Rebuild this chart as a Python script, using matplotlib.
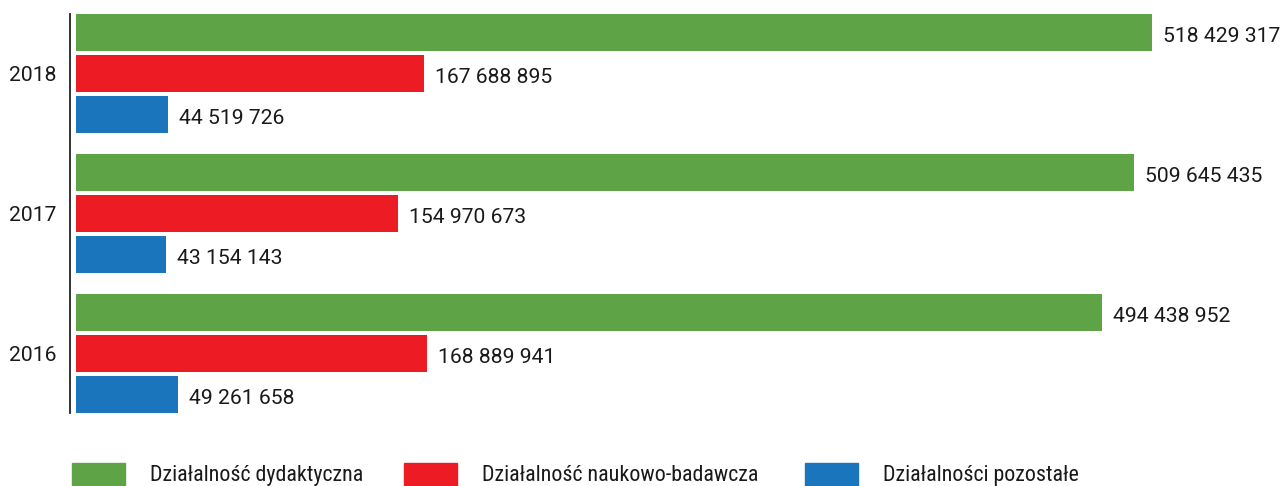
import matplotlib
matplotlib.use("Agg")
from matplotlib import pyplot as plt
from matplotlib.patches import Rectangle
from matplotlib.transforms import ScaledTranslation

years = ["2018", "2017", "2016"]
series = ["Działalność dydaktyczna", "Działalność naukowo-badawcza", "Działalności pozostałe"]
dydaktyczna = [518429317, 509645435, 494438952]
naukowa = [167688895, 154970673, 168889941]
pozostale = [44519726, 43154143, 49261658]
colors = ["#5ea446", "#ed1c24", "#1b75bc"]

W, H = 1283, 486
fig = plt.figure(figsize=(W / 100, H / 100), dpi=100)
ax = fig.add_axes([70 / W, (H - 413) / H, 1213 / W, 399 / H])

k = 1076 / 518429317  # px per unit
pitch = 41 / 140
height = 37 / 140
down = ScaledTranslation(0, -4 / 100, fig.dpi_scale_trans)
values = [dydaktyczna, naukowa, pozostale]
for j, vals in enumerate(values):
    ys = [i + (j - 1) * pitch for i in range(len(years))]
    ax.barh(ys, vals, height=height, color=colors[j])
    for y, v in zip(ys, vals):
        lab = f"{v:,}".replace(",", " ")
        t = ax.text(v + 11 / k, y, lab, va="center", ha="left",
                    fontsize=15.2, family="Roboto", color="#1a1a1a")
        t.set_transform(t.get_transform() + down)

ax.set_xlim(-6 / k, 1207 / k)
ax.set_ylim(2.425, -0.425)
ax.set_yticks(range(len(years)))
ax.set_yticklabels(years, fontsize=15.2, family="Roboto", color="#1a1a1a")
for lab in ax.get_yticklabels():
    lab.set_transform(lab.get_transform() + down)
ax.tick_params(axis="y", length=0, pad=10)
ax.set_xticks([])
for s in ["top", "right", "bottom"]:
    ax.spines[s].set_visible(False)
ax.spines["left"].set_linewidth(1.3)
ax.spines["left"].set_color("#222222")

# legend along the bottom edge
leg_x = [72, 404, 805]
for x, name, c in zip(leg_x, series, colors):
    fig.patches.append(Rectangle((x / W, -10 / H), 53 / W, 33 / H,
                                 transform=fig.transFigure, color=c))
    fig.text((x + 78) / W, 5.5 / H, name, fontsize=15.8, va="baseline",
             family=["Roboto Condensed", "DejaVu Sans"],
             fontstretch="condensed", color="#1a1a1a")

fig.savefig("out.png", dpi=100)
